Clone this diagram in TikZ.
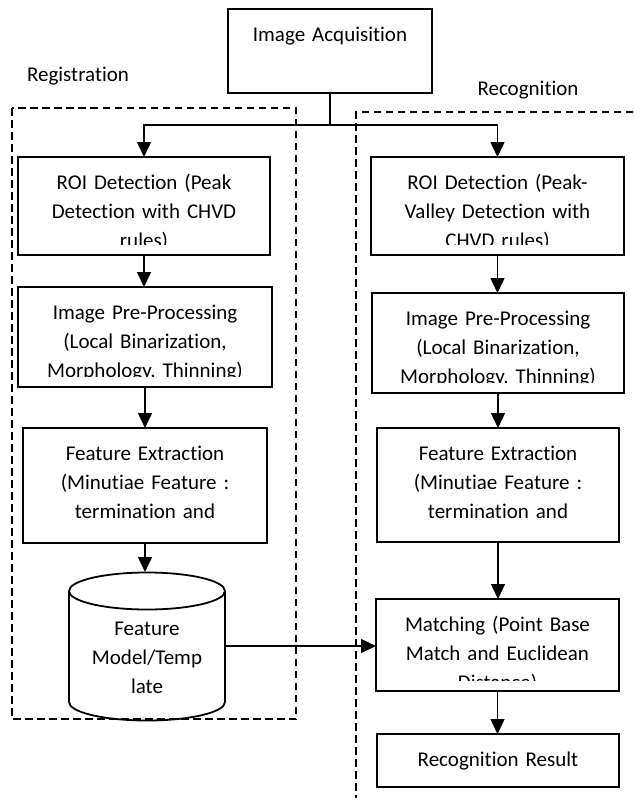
\documentclass[tikz,border=0pt]{standalone}
\usepackage{fontspec}
\setmainfont{Carlito}[Ligatures=NoCommon]
\usetikzlibrary{arrows.meta}
\definecolor{FlowInk}{gray}{0}
\tikzset{
    flow/diagram/.style={
        font=\fontsize{21}{29}\selectfont,
        draw=FlowInk,
        text=FlowInk,
        line join=miter,
        every node/.style={inner sep=0pt, outer sep=0pt}
    },
    flow/text/.style={
        anchor=base, text width=240pt, align=center, inner sep=0pt
    },
    flow/stage/.style={
        draw=FlowInk, line width=1.8pt,
        path picture={
            \clip ([yshift=11pt]path picture bounding box.south west)
                rectangle (path picture bounding box.north east);
            \node[flow/text] (inner) at ([yshift=-32.5pt]path picture bounding box.north) {#1};
        }
    },
    flow/outline/.style={draw=FlowInk, line width=1.8pt},
    flow/group/.style={
        draw=FlowInk, line width=1.8pt,
        dash pattern=on 7.5pt off 4.5pt
    },
    flow/link/.style={
        draw=FlowInk, line width=1.5pt,
        -{Triangle[length=15pt, width=14pt]}
    }
}
\begin{document}
\begin{tikzpicture}[flow/diagram, x=1pt, y=-1pt]
    \useasboundingbox (0,0) rectangle (633,798);
    % dashed groups
    \draw[flow/group] (12,108) rectangle (296,719);
    \draw[flow/group] (633,112) -- (356,112) -- (356,798);
    \node[anchor=base] (regLabel) at (78,81) {Registration};
    \node[anchor=base] (recLabel) at (528,95) {Recognition};

    \node[flow/stage={Image Acquisition}, minimum width=204pt, minimum height=83.5pt] (acq) at (330,51) {};

    % registration
    \node[flow/stage={ROI Detection (Peak\\Detection with CHVD\\rules)},
          minimum width=252pt, minimum height=98pt] (roiL) at (144,206) {};
    \node[flow/stage={Image Pre-Processing\\(Local Binarization,\\Morphology, Thinning)},
          minimum width=254pt, minimum height=100pt] (preL) at (145,337) {};
    \node[flow/stage={Feature Extraction\\(Minutiae Feature :\\termination and},
          minimum width=244pt, minimum height=115pt] (featL) at (145,485.5) {};
    \node[minimum width=156pt, minimum height=148pt] (tmpl) at (147,646) {};
    \draw[flow/outline] (69,591) -- (69,702) arc[start angle=180, end angle=360, x radius=78, y radius=-18.5]
        -- (225,591);
    \draw[flow/outline] (147,591) ellipse[x radius=78, y radius=18.5];
    \node[flow/text, text width=156pt] (tmplText) at (147,635) {Feature\\Model/Temp\\late};

    % recognition
    \node[flow/stage={ROI Detection (Peak-\\Valley Detection with\\CHVD rules)},
          minimum width=253pt, minimum height=98pt] (roiR) at (497.5,206) {};
    \node[flow/stage={Image Pre-Processing\\(Local Binarization,\\Morphology, Thinning)},
          minimum width=252pt, minimum height=100pt] (preR) at (498,343) {};
    \node[flow/stage={Feature Extraction\\(Minutiae Feature :\\termination and},
          minimum width=242pt, minimum height=114pt] (featR) at (498,485) {};
    \node[flow/stage={Matching (Point Base\\Match and Euclidean\\Distance)},
          minimum width=243pt, minimum height=92pt] (match) at (497.5,645) {};
    \node[flow/stage={Recognition Result},
          minimum width=242pt, minimum height=53pt] (result) at (498,760.5) {};

    \coordinate (fork) at (330,125);
    \draw[flow/link, -] (acq.south) -- (fork);
    \draw[flow/link] (fork) -| (roiL.north);
    \draw[flow/link] (fork) -| (roiR.north);
    \draw[flow/link] (roiL.south) -- (roiL.south |- preL.north);
    \draw[flow/link] (preL.south) -- (featL.north);
    \draw[flow/link] (featL.south) -- (featL.south |- tmpl.north);
    \draw[flow/link] (tmpl.east) -- (tmpl.east -| match.west);
    \draw[flow/link] (roiR.south) -- (roiR.south |- preR.north);
    \draw[flow/link] (preR.south) -- (featR.north);
    \draw[flow/link] (featR.south) -- (featR.south |- match.north);
    \draw[flow/link] (match.south) -- (match.south |- result.north);
\end{tikzpicture}
\end{document}
